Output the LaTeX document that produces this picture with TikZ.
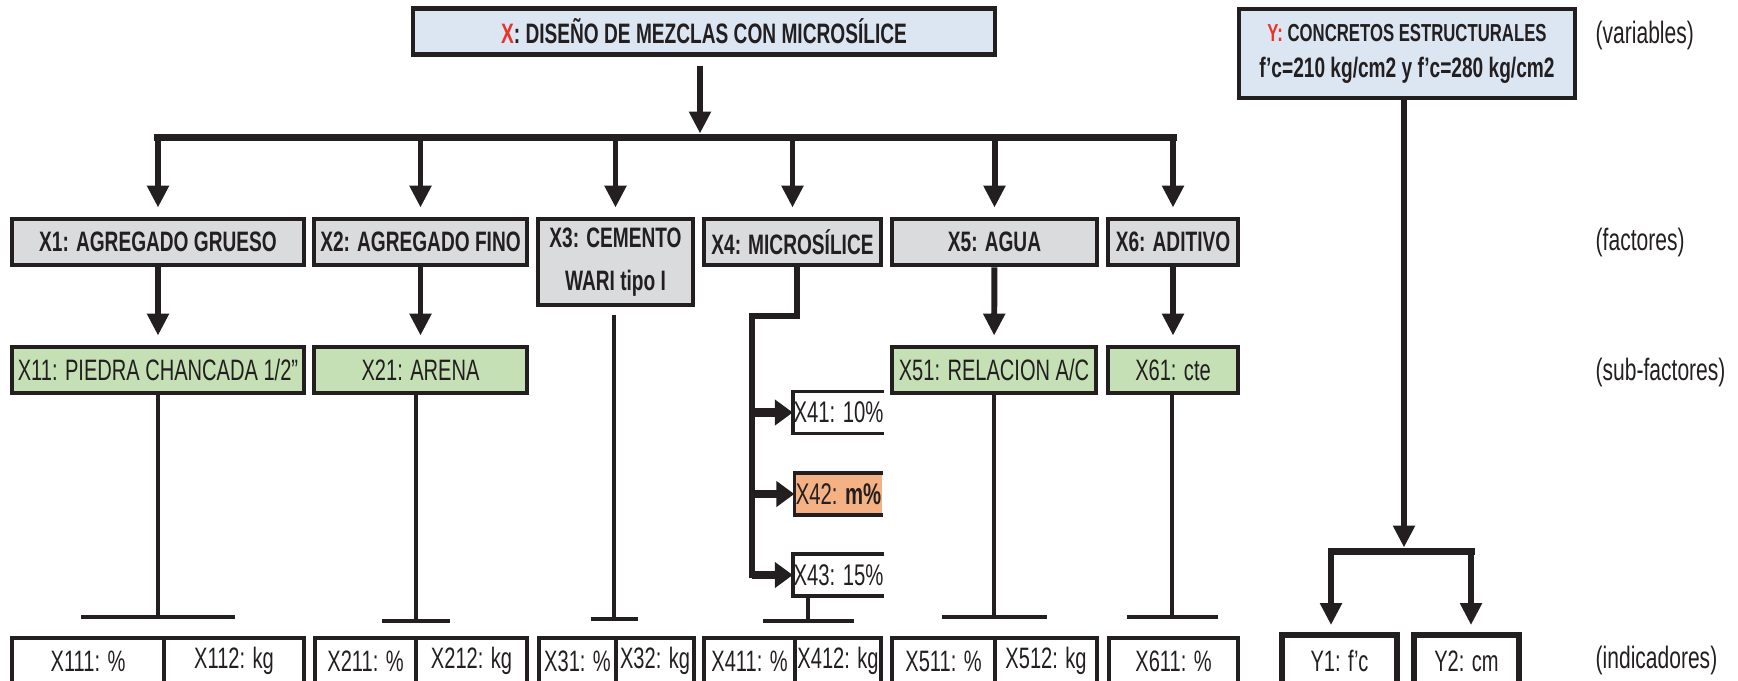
\documentclass[tikz,border=0pt]{standalone}
\usepackage{fontspec}
\setmainfont{Liberation Sans}[FakeStretch=0.68]
\usepackage{tikz}
\usetikzlibrary{arrows.meta}
\definecolor{ink}{RGB}{35,31,32}
\definecolor{varblue}{RGB}{220,230,242}
\definecolor{factgrey}{RGB}{218,219,221}
\definecolor{subgreen}{RGB}{197,224,180}
\definecolor{pctorange}{RGB}{244,177,131}
\definecolor{letterred}{RGB}{237,50,39}

\begin{document}
\begin{tikzpicture}[ink,
    box/.style={draw=ink, line width=1.4pt, inner sep=0pt, minimum height=0.46cm},
    varbox/.style={box, fill=varblue, align=center, font=\bfseries\fontsize{8}{10.2}\selectfont},
    factbox/.style={box, fill=factgrey, align=center, font=\bfseries\fontsize{8}{12.2}\selectfont},
    subbox/.style={box, fill=subgreen, font=\fontsize{8.4}{10}\selectfont},
    pctbox/.style={inner sep=0pt, minimum width=0.87cm, minimum height=0.41cm, font=\fontsize{8.5}{10}\selectfont},
    indbox/.style={draw=ink, line width=0.9pt, inner sep=0pt, minimum height=0.46cm, font=\fontsize{8.4}{10}\selectfont},
    ybox/.style={indbox, line width=1.7pt, minimum height=0.52cm},
    level/.style={anchor=west, inner sep=0pt, font=\fontsize{8.8}{10}\selectfont},
    arr/.style={line width=1.7pt, -{Triangle[length=2.2mm,width=2.1mm]}},
    harr/.style={line width=2.3pt, -{Triangle[length=1.8mm,width=2.5mm]}},
    bar/.style={line width=2pt, line cap=rect},
    stem/.style={line width=1.2pt},
    tee/.style={line width=1.4pt}]
      \useasboundingbox (0,0) rectangle (17.38,-6.80);

      % variables
      \node[varbox, minimum width=5.82cm] (x) at (7.04,-0.315) {\textcolor{letterred}{X}: DISEÑO DE MEZCLAS CON MICROSÍLICE};
      \node[varbox, minimum width=3.36cm, minimum height=0.89cm] (y) at (14.07,-0.535)
        {{\fontsize{7}{10.2}\selectfont\textcolor{letterred}{Y:} CONCRETOS ESTRUCTURALES}\\f'c=210 kg/cm2 y f'c=280 kg/cm2};

      % factores
      \node[factbox, minimum width=2.92cm] (f1) at (1.58,-2.42)  {X1: AGREGADO GRUESO};
      \node[factbox, minimum width=2.13cm] (f2) at (4.205,-2.42) {X2: AGREGADO FINO};
      \node[factbox, minimum width=1.55cm, minimum height=0.86cm] (f3) at (6.155,-2.62) {X3: CEMENTO\\WARI tipo I};
      \node[factbox, minimum width=1.77cm] (f4) at (7.925,-2.42) {X4: MICROSÍLICE};
      \node[factbox, minimum width=2.05cm] (f5) at (9.945,-2.42) {X5: AGUA};
      \node[factbox, minimum width=1.30cm] (f6) at (11.73,-2.42) {X6: ADITIVO};

      % sub-factores
      \node[subbox, minimum width=2.92cm] (s1) at (1.58,-3.70)  {X11: PIEDRA CHANCADA 1/2''};
      \node[subbox, minimum width=2.13cm] (s2) at (4.205,-3.70) {X21: ARENA};
      \node[subbox, minimum width=2.04cm] (s5) at (9.94,-3.70)  {X51: RELACION A/C};
      \node[subbox, minimum width=1.30cm] (s6) at (11.73,-3.70) {X61: cte};

      \node[pctbox] (p1) at (8.385,-4.125) {X41: 10\%};
      \node[pctbox, fill=pctorange] (p2) at (8.385,-4.94) {X42: \textbf{m\%}};
      \node[pctbox] (p3) at (8.385,-5.75) {X43: 15\%};
      \draw[line width=1pt] (p1.north east) -- (p1.north west) -- (p1.south west) -- (p1.south east);
      \draw[line width=1pt] (p2.north east) -- (p2.north west) -- (p2.south west) -- (p2.south east);
      \draw[line width=1pt] (p3.north east) -- (p3.north west) -- (p3.south west) -- (p3.south east);

      % indicadores
      \node[indbox, minimum width=1.52cm] (i111) at (0.88,-6.61)  {X111: \%};
      \node[indbox, minimum width=1.40cm] (i112) at (2.34,-6.61)  {X112: kg};
      \node[indbox, minimum width=1.01cm] (i211) at (3.655,-6.61) {X211: \%};
      \node[indbox, minimum width=1.11cm] (i212) at (4.715,-6.61) {X212: kg};
      \node[indbox, minimum width=0.77cm] (i31)  at (5.775,-6.61) {X31: \%};
      \node[indbox, minimum width=0.78cm] (i32)  at (6.55,-6.61)  {X32: kg};
      \node[indbox, minimum width=0.91cm] (i411) at (7.495,-6.61) {X411: \%};
      \node[indbox, minimum width=0.86cm] (i412) at (8.38,-6.61)  {X412: kg};
      \node[indbox, minimum width=1.03cm] (i511) at (9.435,-6.61) {X511: \%};
      \node[indbox, minimum width=1.02cm] (i512) at (10.46,-6.61) {X512: kg};
      \node[indbox, minimum width=1.29cm] (i611) at (11.735,-6.61) {X611: \%};
      \node[ybox, minimum width=1.15cm] (y1) at (13.395,-6.61) {Y1: f'c};
      \node[ybox, minimum width=1.05cm] (y2) at (14.665,-6.61) {Y2: cm};

      % niveles
      \node[level] (lv) at (15.95,-0.35) {(variables)};
      \node[level] (lf) at (15.95,-2.42) {(factores)};
      \node[level] (ls) at (15.95,-3.72) {(sub-factores)};
      \node[level] (li) at (15.95,-6.60) {(indicadores)};

      % X -> factores
      \coordinate (xj) at (7.00,-1.37);
      \draw[arr, shorten <=0.09cm, shorten >=1pt] (xj |- x.south) -- (xj);
      \draw[bar] (f1.north |- xj) -- (f6.north |- xj);
      \draw[arr, shorten >=0.09cm] (f1.north |- xj) -- (f1.north);
      \draw[arr, shorten >=0.09cm] (f2.north |- xj) -- (f2.north);
      \draw[arr, shorten >=0.09cm] (f3.north |- xj) -- (f3.north);
      \draw[arr, shorten >=0.09cm] (f4.north |- xj) -- (f4.north);
      \draw[arr, shorten >=0.09cm] (f5.north |- xj) -- (f5.north);
      \draw[arr, shorten >=0.09cm] (f6.north |- xj) -- (f6.north);

      % factores -> sub-factores
      \draw[arr, shorten >=0.09cm] (f1) -- (s1);
      \draw[arr, shorten >=0.09cm] (f2) -- (s2);
      \draw[arr, shorten >=0.09cm] (f5) -- (s5);
      \draw[arr, shorten >=0.09cm] (f6) -- (s6);

      % X4 -> porcentajes
      \coordinate (e1) at (7.52,-3.16);
      \draw[line width=1.5pt, line cap=rect] ([xshift=0.045cm]f4.south) |- (e1) -- (e1 |- p3.west);
      \draw[harr] (e1 |- p1.west) -- (p1.west);
      \draw[harr] (e1 |- p2.west) -- (p2.west);
      \draw[harr] (e1 |- p3.west) -- (p3.west);

      % sub-factores -> indicadores
      \coordinate (t1) at (1.58,-6.17);
      \coordinate (t2) at (4.16,-6.21);
      \coordinate (t3) at (6.14,-6.19);
      \coordinate (t4) at (8.08,-6.21);
      \coordinate (t5) at (9.94,-6.17);
      \coordinate (t6) at (11.72,-6.17);
      \draw[stem] (t1 |- s1.south) -- (t1);
      \draw[stem, line width=0.9pt] (t2 |- s2.south) -- (t2);
      \draw[stem, line width=1pt, shorten <=0.08cm] (t3 |- f3.south) -- (t3);
      \draw[stem, line width=1pt] (t4 |- p3.south) -- (t4);
      \draw[stem] (t5 |- s5.south) -- (t5);
      \draw[stem] (t6 |- s6.south) -- (t6);
      \draw[tee] ([xshift=-0.77cm]t1) -- ([xshift=0.77cm]t1);
      \draw[tee] ([xshift=-0.34cm]t2) -- ([xshift=0.34cm]t2);
      \draw[tee] ([xshift=-0.235cm]t3) -- ([xshift=0.235cm]t3);
      \draw[tee] ([xshift=-0.455cm]t4) -- ([xshift=0.455cm]t4);
      \draw[tee] ([xshift=-0.525cm]t5) -- ([xshift=0.525cm]t5);
      \draw[tee] ([xshift=-0.455cm]t6) -- ([xshift=0.455cm]t6);

      % Y -> indicadores
      \coordinate (yj) at (14.04,-5.51);
      \coordinate (yb1) at (13.31,-5.51);
      \coordinate (yb2) at (14.71,-5.51);
      \draw[arr, line width=1.6pt, shorten >=1pt] (yj |- y.south) -- (yj);
      \draw[bar] (yb1) -- (yb2);
      \draw[arr, shorten >=0.07cm] (yb1) -- (yb1 |- y1.north);
      \draw[arr, shorten >=0.07cm] (yb2) -- (yb2 |- y2.north);
\end{tikzpicture}
\end{document}
